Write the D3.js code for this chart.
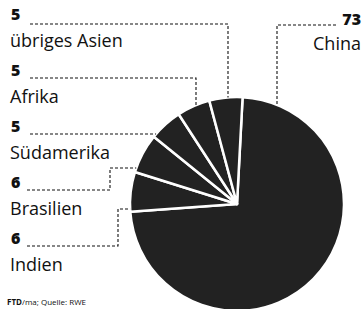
<!DOCTYPE html>
<html>
<head>
<meta charset="utf-8">
<script src="https://cdn.jsdelivr.net/npm/d3@7"></script>
<style>
  body { margin: 0; background: #fff; }
  svg { display: block; }
</style>
</head>
<body>
<div id="chart"></div>
<script>
// Anteile in Prozent, Reihenfolge im Uhrzeigersinn ab 12 Uhr
const regions = ["China", "Indien", "Brasilien", "Südamerika", "Afrika", "übriges Asien"];
const shares = [73, 6, 6, 5, 5, 5];

const width = 363;
const height = 309;
const cx = 237;
const cy = 204;
const radius = 107;
const ink = "#111";
const font = "'Open Sans', 'Noto Sans', sans-serif";

const svg = d3.select("#chart").append("svg")
    .attr("width", width)
    .attr("height", height);

const start = 3 * Math.PI / 180;
const pie = d3.pie()
    .sort(null)
    .value(d => d.value)
    .startAngle(start)
    .endAngle(start + 2 * Math.PI);

const arcs = pie(regions.map((r, i) => ({ name: r, value: shares[i] })));
const arc = d3.arc().innerRadius(0).outerRadius(radius);

const g = svg.append("g").attr("transform", `translate(${cx},${cy})`);
g.selectAll("path")
    .data(arcs)
    .join("path")
    .attr("d", arc)
    .attr("fill", "#222")
    .attr("stroke", "#fff")
    .attr("stroke-width", 2.5)
    .attr("stroke-linejoin", "round");

const rimAtX = (x, side) => cy + side * Math.sqrt(radius * radius - (x - cx) * (x - cx));
const rimAtY = y => cx - Math.sqrt(radius * radius - (y - cy) * (y - cy));

// left-hand labels, top to bottom
const leftRows = ["übriges Asien", "Afrika", "Südamerika", "Brasilien", "Indien"];
const numY = d3.scalePoint().domain(leftRows).range([20, 244]);

const line = d3.line();
const leaders = {
    "übriges Asien": y => [[30, y + 4], [228, y + 4], [228, rimAtX(228, -1)]],
    "Afrika": y => [[30, y + 2], [196, y + 2], [196, rimAtX(196, -1)]],
    "Südamerika": y => [[30, y + 2], [rimAtY(y + 2), y + 2]],
    "Brasilien": y => [[27, y + 2], [110, y + 2], [110, 168], [rimAtY(168), 168]],
    "Indien": y => [[27, y + 2], [118, y + 2], [118, 209], [rimAtY(209), 209]]
};

leftRows.forEach(name => {
    const i = regions.indexOf(name);
    const y = numY(name);
    svg.append("text")
        .attr("x", 11)
        .attr("y", y)
        .attr("font-family", font)
        .attr("font-weight", 800)
        .attr("font-size", 16)
        .attr("fill", ink)
        .text(shares[i]);
    svg.append("text")
        .attr("x", 10)
        .attr("y", y + 27)
        .attr("font-family", font)
        .attr("font-size", 18)
        .attr("fill", ink)
        .text(name);
    svg.append("path")
        .attr("d", line(leaders[name](y)))
        .attr("fill", "none")
        .attr("stroke", ink)
        .attr("stroke-width", 1.1)
        .attr("stroke-dasharray", "3,2");
});

// China rechts oben
svg.append("text")
    .attr("x", 361)
    .attr("y", 25)
    .attr("text-anchor", "end")
    .attr("font-family", font)
    .attr("font-weight", 800)
    .attr("font-size", 16)
    .attr("fill", ink)
    .text(shares[0]);
svg.append("text")
    .attr("x", 361)
    .attr("y", 50)
    .attr("text-anchor", "end")
    .attr("font-family", font)
    .attr("font-size", 18)
    .attr("fill", ink)
    .text(regions[0]);
svg.append("path")
    .attr("d", line([[336, 25], [277, 25], [277, rimAtX(277, -1)]]))
    .attr("fill", "none")
    .attr("stroke", ink)
    .attr("stroke-width", 1.1)
    .attr("stroke-dasharray", "3,2");

// Quelle
const src = svg.append("text")
    .attr("x", 7)
    .attr("y", 305)
    .attr("font-family", font)
    .attr("font-size", 8)
    .attr("fill", ink);
src.append("tspan").attr("font-weight", 700).text("FTD");
src.append("tspan").text("/ma; Quelle: RWE");
</script>
</body>
</html>
